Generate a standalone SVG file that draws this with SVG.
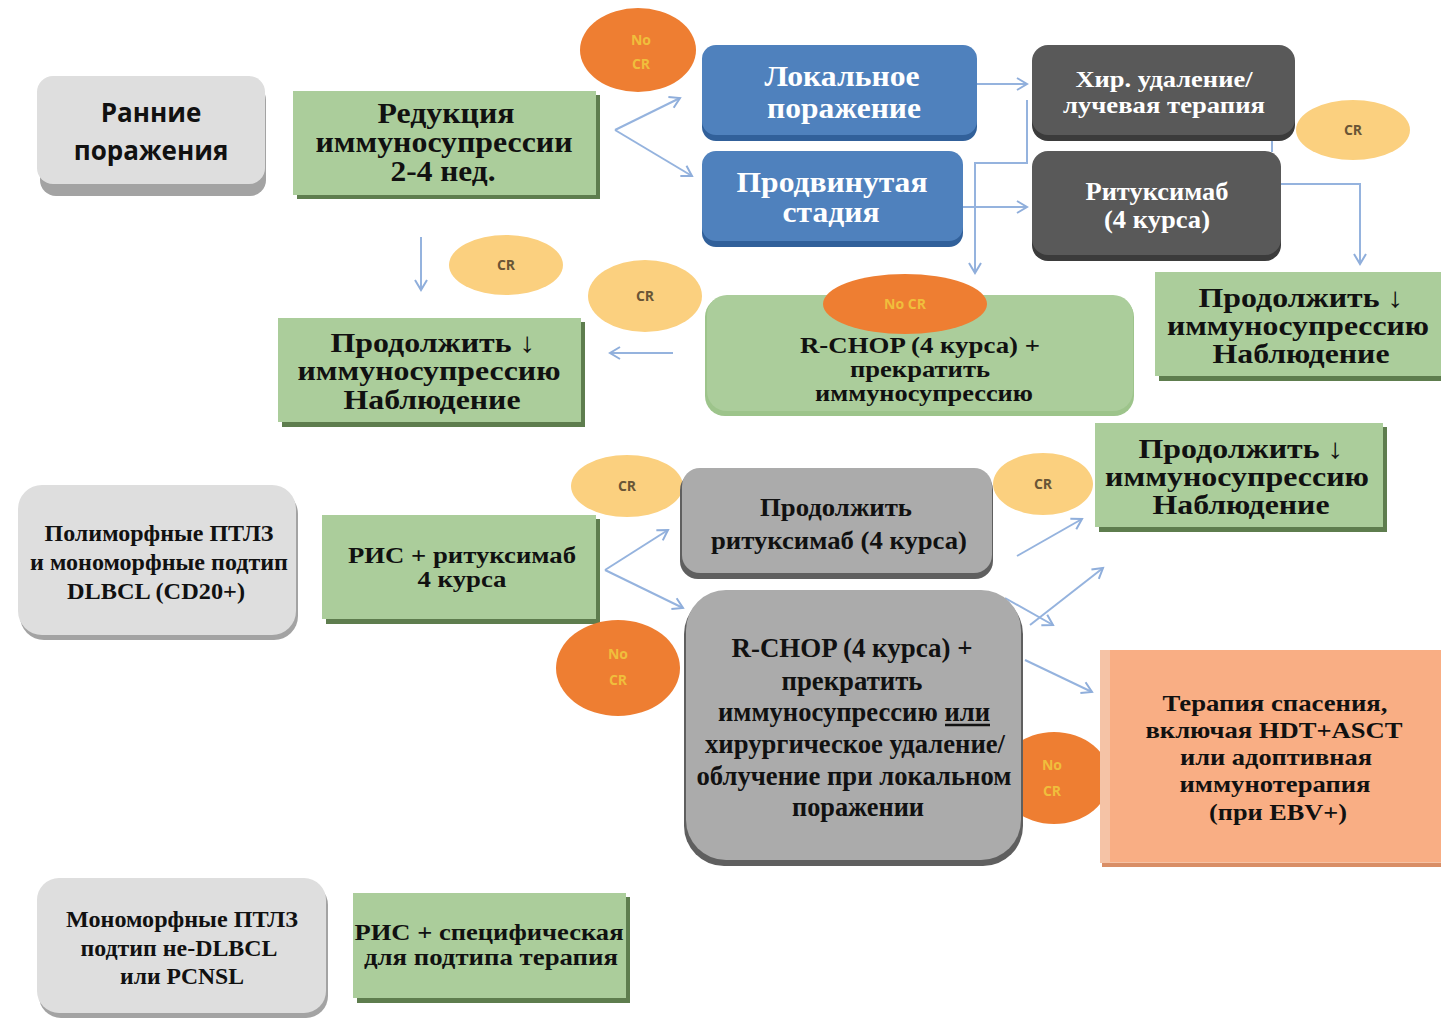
<svg xmlns="http://www.w3.org/2000/svg" width="1441" height="1028" viewBox="0 0 1441 1028">
<defs>
<marker id="ah" markerUnits="userSpaceOnUse" markerWidth="16" markerHeight="16" refX="13" refY="8" orient="auto">
<path d="M3,2 L13,8 L3,14" fill="none" stroke="#8FAEDB" stroke-width="2"/>
</marker>
</defs>
<style>
.t{font-family:"Liberation Serif","DejaVu Serif",serif;font-weight:bold;text-anchor:middle;fill:#111}
.w{fill:#fff}
.s{font-family:"Open Sans","Liberation Sans",sans-serif;font-weight:bold;text-anchor:middle;fill:#111}
.ell{font-family:"Open Sans","Liberation Sans",sans-serif;font-weight:bold;text-anchor:middle;font-size:14px}
.no{fill:#F0BE3C}
.cr{fill:#6A5536}
.conn{fill:none;stroke:#95B3DE;stroke-width:2}
.lg{fill:#DEDEDE}
.lgs{fill:#A3A3A3}
.gr{fill:#ABCD9B}
.grs{fill:#5E7D4E}
.bl{fill:#4F81BD}
.bls{fill:#31609A}
.dg{fill:#595959}
.dgs{fill:#3B3B3B}
.mg{fill:#ABABAB}
.mgs{fill:#5F5F5F}
.or{fill:#EE7E32}
.ye{fill:#FBD07F}
</style>

<g id="connectors">
<path class="conn" d="M615,130 L680,98" marker-end="url(#ah)"/>
<path class="conn" d="M615,130 L692,176" marker-end="url(#ah)"/>
<path class="conn" d="M977,84 L1027,84" marker-end="url(#ah)"/>
<path class="conn" d="M962,207 L1027,207" marker-end="url(#ah)"/>
<path class="conn" d="M1027,100 L1027,163 L975,163 L975,273" marker-end="url(#ah)"/>
<path class="conn" d="M1272,139 L1272,152"/>
<path class="conn" d="M1280,184 L1360,184 L1360,264" marker-end="url(#ah)"/>
<path class="conn" d="M421,237 L421,290" marker-end="url(#ah)"/>
<path class="conn" d="M673,353 L610,353" marker-end="url(#ah)"/>
<path class="conn" d="M605,570 L668,530" marker-end="url(#ah)"/>
<path class="conn" d="M605,570 L683,608" marker-end="url(#ah)"/>
<path class="conn" d="M1017,556 L1082,519" marker-end="url(#ah)"/>
<path class="conn" d="M1030,625 L1103,568" marker-end="url(#ah)"/>
<path class="conn" d="M1005,598 L1053,625" marker-end="url(#ah)"/>
<path class="conn" d="M1025,660 L1092,692" marker-end="url(#ah)"/>
</g>

<g id="early">
<rect class="lgs" x="40" y="84" width="226" height="112" rx="16"/>
<rect class="lg" x="37" y="76" width="228" height="108" rx="16"/>
<text class="s" x="151" y="122" font-size="26">Ранние</text>
<text class="s" x="151" y="160" font-size="26">поражения</text>
</g>

<g id="reduction">
<rect class="grs" x="297" y="95" width="303" height="104"/>
<rect class="gr" x="293" y="91" width="303" height="104"/>
<text class="t" x="446" y="123" font-size="29" textLength="137" lengthAdjust="spacingAndGlyphs">Редукция</text>
<text class="t" x="444" y="152" font-size="29" textLength="257" lengthAdjust="spacingAndGlyphs">иммуносупрессии</text>
<text class="t" x="443" y="181" font-size="29" textLength="105" lengthAdjust="spacingAndGlyphs">2-4 нед.</text>
</g>

<g id="nocr1">
<ellipse class="or" cx="638" cy="50" rx="58" ry="42"/>
<text class="ell no" x="641" y="45">No</text>
<text class="ell no" x="641" y="69">CR</text>
</g>

<g id="local">
<rect class="bls" x="702" y="49" width="275" height="92" rx="14"/>
<rect class="bl" x="702" y="45" width="275" height="90" rx="14"/>
<text class="t w" x="842" y="86" font-size="30" textLength="155" lengthAdjust="spacingAndGlyphs">Локальное</text>
<text class="t w" x="844" y="118" font-size="30" textLength="154" lengthAdjust="spacingAndGlyphs">поражение</text>
</g>

<g id="advanced">
<rect class="bls" x="702" y="155" width="261" height="92" rx="14"/>
<rect class="bl" x="702" y="151" width="261" height="90" rx="14"/>
<text class="t w" x="832" y="192" font-size="30" textLength="191" lengthAdjust="spacingAndGlyphs">Продвинутая</text>
<text class="t w" x="831" y="222" font-size="30" textLength="97" lengthAdjust="spacingAndGlyphs">стадия</text>
</g>

<g id="surgery">
<rect class="dgs" x="1032" y="49" width="263" height="92" rx="16"/>
<rect class="dg" x="1032" y="45" width="263" height="90" rx="16"/>
<text class="t w" x="1164" y="87" font-size="23" textLength="177" lengthAdjust="spacingAndGlyphs">Хир. удаление/</text>
<text class="t w" x="1164" y="113" font-size="23" textLength="202" lengthAdjust="spacingAndGlyphs">лучевая терапия</text>
</g>

<g id="rituximab">
<rect class="dgs" x="1032" y="155" width="249" height="106" rx="16"/>
<rect class="dg" x="1032" y="151" width="249" height="104" rx="16"/>
<text class="t w" x="1157" y="200" font-size="25" textLength="143" lengthAdjust="spacingAndGlyphs">Ритуксимаб</text>
<text class="t w" x="1157" y="228" font-size="25" textLength="106" lengthAdjust="spacingAndGlyphs">(4 курса)</text>
</g>

<g id="cr1">
<ellipse class="ye" cx="1353" cy="130" rx="57" ry="30"/>
<text class="ell cr" x="1353" y="135">CR</text>
</g>

<g id="continue1">
<rect class="grs" x="1159" y="276" width="282" height="105"/>
<rect class="gr" x="1155" y="272" width="286" height="104"/>
<text class="t" x="1301" y="307" font-size="28" textLength="205" lengthAdjust="spacingAndGlyphs">Продолжить ↓</text>
<text class="t" x="1298" y="335" font-size="28" textLength="262" lengthAdjust="spacingAndGlyphs">иммуносупрессию</text>
<text class="t" x="1301" y="363" font-size="28" textLength="177" lengthAdjust="spacingAndGlyphs">Наблюдение</text>
</g>

<g id="cr2">
<ellipse class="ye" cx="506" cy="265" rx="57" ry="30"/>
<text class="ell cr" x="506" y="270">CR</text>
</g>

<g id="cr3">
<ellipse class="ye" cx="645" cy="296" rx="57" ry="36"/>
<text class="ell cr" x="645" y="301">CR</text>
</g>

<g id="rchop1">
<rect fill="#9DC48B" x="705" y="297" width="429" height="119" rx="20"/>
<rect class="gr" x="707" y="295" width="426" height="116" rx="20"/>
<text class="t" x="920" y="353" font-size="23" textLength="240" lengthAdjust="spacingAndGlyphs">R-CHOP (4 курса) +</text>
<text class="t" x="920" y="377" font-size="23" textLength="140" lengthAdjust="spacingAndGlyphs">прекратить</text>
<text class="t" x="924" y="401" font-size="23" textLength="218" lengthAdjust="spacingAndGlyphs">иммуносупрессию</text>
</g>

<g id="nocr2">
<ellipse class="or" cx="905" cy="304" rx="82" ry="30"/>
<text class="ell no" x="905" y="309">No CR</text>
</g>

<g id="continue2">
<rect class="grs" x="282" y="322" width="303" height="105"/>
<rect class="gr" x="278" y="318" width="303" height="104"/>
<text class="t" x="433" y="352" font-size="28" textLength="205" lengthAdjust="spacingAndGlyphs">Продолжить ↓</text>
<text class="t" x="429" y="380" font-size="28" textLength="263" lengthAdjust="spacingAndGlyphs">иммуносупрессию</text>
<text class="t" x="432" y="409" font-size="28" textLength="177" lengthAdjust="spacingAndGlyphs">Наблюдение</text>
</g>

<g id="polymorph">
<rect class="lgs" x="20" y="490" width="278" height="150" rx="24"/>
<rect class="lg" x="18" y="485" width="278" height="150" rx="24"/>
<text class="t" x="159" y="541" font-size="23" textLength="229" lengthAdjust="spacingAndGlyphs">Полиморфные ПТЛЗ</text>
<text class="t" x="159" y="570" font-size="23" textLength="258" lengthAdjust="spacingAndGlyphs">и мономорфные подтип</text>
<text class="t" x="156" y="599" font-size="23" textLength="178" lengthAdjust="spacingAndGlyphs">DLBCL (CD20+)</text>
</g>

<g id="ris1">
<rect class="grs" x="326" y="519" width="274" height="105"/>
<rect class="gr" x="322" y="515" width="274" height="104"/>
<text class="t" x="462" y="563" font-size="24" textLength="228" lengthAdjust="spacingAndGlyphs">РИС + ритуксимаб</text>
<text class="t" x="462" y="587" font-size="24" textLength="89" lengthAdjust="spacingAndGlyphs">4 курса</text>
</g>

<g id="cr4">
<ellipse class="ye" cx="627" cy="486" rx="56" ry="31"/>
<text class="ell cr" x="627" y="491">CR</text>
</g>

<g id="nocr3">
<ellipse class="or" cx="618" cy="668" rx="62" ry="48"/>
<text class="ell no" x="618" y="659">No</text>
<text class="ell no" x="618" y="685">CR</text>
</g>

<g id="continueR">
<rect class="mgs" x="680" y="472" width="313" height="107" rx="18"/>
<rect class="mg" x="682" y="468" width="310" height="105" rx="18"/>
<text class="t" x="836" y="516" font-size="26" textLength="152" lengthAdjust="spacingAndGlyphs">Продолжить</text>
<text class="t" x="839" y="549" font-size="26" textLength="256" lengthAdjust="spacingAndGlyphs">ритуксимаб (4 курса)</text>
</g>

<g id="cr5">
<ellipse class="ye" cx="1043" cy="484" rx="50" ry="31"/>
<text class="ell cr" x="1043" y="489">CR</text>
</g>

<g id="continue3">
<rect class="grs" x="1099" y="427" width="288" height="105"/>
<rect class="gr" x="1095" y="423" width="288" height="104"/>
<text class="t" x="1241" y="458" font-size="28" textLength="205" lengthAdjust="spacingAndGlyphs">Продолжить ↓</text>
<text class="t" x="1237" y="486" font-size="28" textLength="264" lengthAdjust="spacingAndGlyphs">иммуносупрессию</text>
<text class="t" x="1241" y="514" font-size="28" textLength="177" lengthAdjust="spacingAndGlyphs">Наблюдение</text>
</g>

<g id="nocr4">
<ellipse class="or" cx="1054" cy="778" rx="56" ry="46"/>
<text class="ell no" x="1052" y="770">No</text>
<text class="ell no" x="1052" y="796">CR</text>
</g>

<g id="rchop2">
<rect class="mgs" x="684" y="594" width="339" height="272" rx="40"/>
<rect class="mg" x="686" y="590" width="335" height="270" rx="40"/>
<text class="t" x="852" y="657" font-size="27" textLength="241" lengthAdjust="spacingAndGlyphs">R-CHOP (4 курса) +</text>
<text class="t" x="852" y="690" font-size="27" textLength="141" lengthAdjust="spacingAndGlyphs">прекратить</text>
<text class="t" x="854" y="721" font-size="27" textLength="272" lengthAdjust="spacingAndGlyphs">иммуносупрессию или</text>
<line x1="945" y1="725" x2="990" y2="725" stroke="#111" stroke-width="2.5"/>
<text class="t" x="855" y="753" font-size="27" textLength="300" lengthAdjust="spacingAndGlyphs">хирургическое удаление/</text>
<text class="t" x="854" y="785" font-size="27" textLength="315" lengthAdjust="spacingAndGlyphs">облучение при локальном</text>
<text class="t" x="858" y="816" font-size="27" textLength="132" lengthAdjust="spacingAndGlyphs">поражении</text>
</g>

<g id="salvage">
<rect fill="#D98E66" x="1102" y="654" width="339" height="213"/>
<rect fill="#F5C3A6" x="1100" y="650" width="341" height="213"/>
<rect fill="#F9AE84" x="1110" y="650" width="331" height="212"/>
<text class="t" x="1275" y="711" font-size="24" textLength="225" lengthAdjust="spacingAndGlyphs">Терапия спасения,</text>
<text class="t" x="1274" y="738" font-size="24" textLength="257" lengthAdjust="spacingAndGlyphs">включая HDT+ASCT</text>
<text class="t" x="1276" y="765" font-size="24" textLength="192" lengthAdjust="spacingAndGlyphs">или адоптивная</text>
<text class="t" x="1275" y="792" font-size="24" textLength="191" lengthAdjust="spacingAndGlyphs">иммунотерапия</text>
<text class="t" x="1278" y="820" font-size="24" textLength="138" lengthAdjust="spacingAndGlyphs">(при EBV+)</text>
</g>

<g id="monomorph">
<rect class="lgs" x="39" y="883" width="289" height="135" rx="22"/>
<rect class="lg" x="37" y="878" width="289" height="135" rx="22"/>
<text class="t" x="182" y="927" font-size="24" textLength="232" lengthAdjust="spacingAndGlyphs">Мономорфные ПТЛЗ</text>
<text class="t" x="179" y="956" font-size="24" textLength="197" lengthAdjust="spacingAndGlyphs">подтип не-DLBCL</text>
<text class="t" x="182" y="984" font-size="24" textLength="124" lengthAdjust="spacingAndGlyphs">или PCNSL</text>
</g>

<g id="ris2">
<rect class="grs" x="357" y="897" width="273" height="106"/>
<rect class="gr" x="353" y="893" width="273" height="105"/>
<text class="t" x="489" y="940" font-size="24" textLength="269" lengthAdjust="spacingAndGlyphs">РИС + специфическая</text>
<text class="t" x="491" y="965" font-size="24" textLength="254" lengthAdjust="spacingAndGlyphs">для подтипа терапия</text>
</g>
</svg>
